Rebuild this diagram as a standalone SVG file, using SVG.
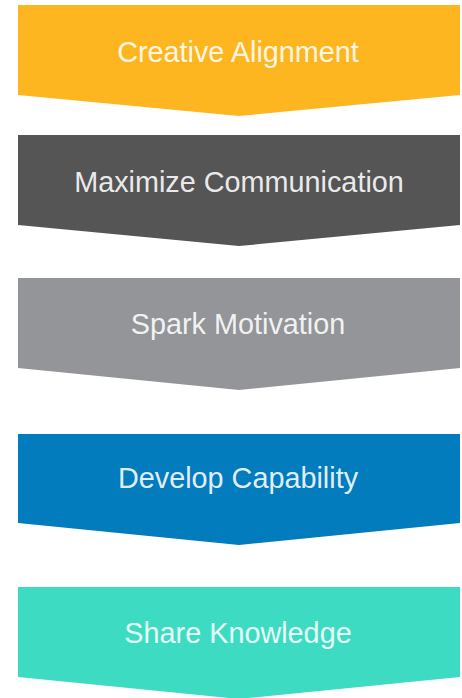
<svg xmlns="http://www.w3.org/2000/svg" width="462" height="698" viewBox="0 0 462 698">
  <style>
    .lbl { font-family: "Liberation Sans", Arial, sans-serif; font-size: 28.8px; fill: #ffffff; fill-opacity: 0.9; text-anchor: middle; }
  </style>
  <rect width="462" height="698" fill="#ffffff"/>
  <!-- chevron steps, top to bottom -->
  <g id="step-creative-alignment">
    <polygon points="18,5 460,5 460,95 239,116 18,95" fill="#fdb61f"/>
    <text class="lbl" x="238" y="62">Creative Alignment</text>
  </g>
  <g id="step-maximize-communication">
    <polygon points="18,135 460,135 460,225 239,246 18,225" fill="#555555"/>
    <text class="lbl" x="239" y="192">Maximize Communication</text>
  </g>
  <g id="step-spark-motivation">
    <polygon points="18,278 460,278 460,368 239,390 18,368" fill="#939598"/>
    <text class="lbl" x="238" y="334">Spark Motivation</text>
  </g>
  <g id="step-develop-capability">
    <polygon points="18,434 460,434 460,523 239,545 18,523" fill="#037cbd"/>
    <text class="lbl" x="238" y="488">Develop Capability</text>
  </g>
  <g id="step-share-knowledge">
    <polygon points="18,587 460,587 460,677 239,699 18,677" fill="#3ddcc2"/>
    <text class="lbl" x="238" y="643">Share Knowledge</text>
  </g>
  <g id="connectors"></g>
</svg>
